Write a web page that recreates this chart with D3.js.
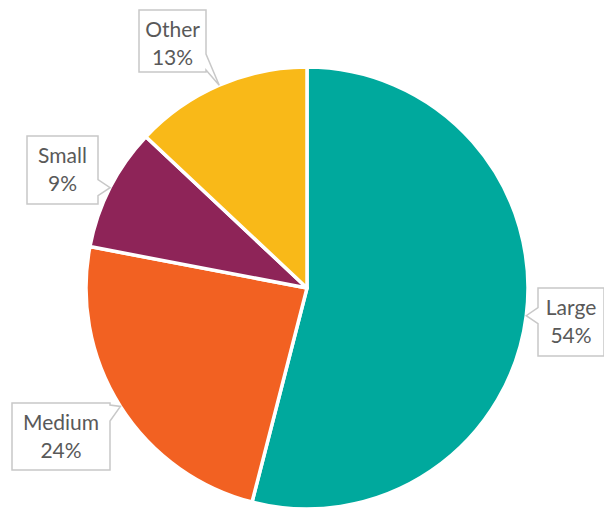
<!DOCTYPE html>
<html>
<head>
<meta charset="utf-8">
<script src="https://cdn.jsdelivr.net/npm/d3@7"></script>
<style>
  body { margin: 0; background: #fff; }
  svg { display: block; }
</style>
</head>
<body>
<svg id="chart" width="604" height="508"></svg>
<script>
const categories = ["Large", "Medium", "Small", "Other"],
    values = [54, 24, 9, 13],
    colors = ["#00A99D", "#F26122", "#8E2458", "#F9B918"];

// callout boxes, one per category (layout only)
const boxes = [
    {x: 538, y: 288, w: 66, h: 68},
    {x: 12, y: 403, w: 98, h: 67},
    {x: 27, y: 136, w: 71, h: 68},
    {x: 139, y: 10, w: 67, h: 62}
];

const cx = 307, cy = 288, radius = 221;

function drawPie() {
    var svg = d3.select("#chart");

    var data = categories.map(function(c, i) {
        return {name: c, value: values[i], color: colors[i], box: boxes[i]};
    });

    var pie = d3.pie().sort(null).value(function(d) { return d.value; }),
        arc = d3.arc().innerRadius(0).outerRadius(radius);

    var g = svg.append("g")
        .attr("transform", "translate(" + cx + "," + cy + ")");

    var arcs = pie(data);

    g.selectAll(".slice")
        .data(arcs)
        .enter().append("path")
        .attr("class", "slice")
        .attr("d", arc)
        .attr("fill", function(d) { return d.data.color; })
        .attr("stroke", "#fff")
        .attr("stroke-width", 3.5)
        .attr("stroke-linejoin", "round");

    // callouts
    arcs.forEach(function(d) {
        var b = d.data.box,
            mid = (d.startAngle + d.endAngle) / 2,
            tip = [cx + radius * Math.sin(mid), cy - radius * Math.cos(mid)],
            path = calloutPath(b, tip);

        svg.append("path")
            .attr("d", path)
            .attr("fill", "#fff")
            .attr("stroke", "#C8C8C8")
            .attr("stroke-width", 1.5);

        var t = svg.append("text")
            .attr("text-anchor", "middle")
            .attr("font-family", "Lato, 'Open Sans', sans-serif")
            .attr("font-size", 21)
            .attr("fill", "#595959");
        t.append("tspan")
            .attr("x", b.x + b.w / 2)
            .attr("y", b.y + 27)
            .text(d.data.name);
        t.append("tspan")
            .attr("x", b.x + b.w / 2)
            .attr("y", b.y + 55)
            .text(d.data.value + "%");
    });
}

function calloutPath(b, tip) {
    var x0 = b.x, y0 = b.y, x1 = b.x + b.w, y1 = b.y + b.h,
        hw = 8, m = 2,
        clamp = function(v, lo, hi) { return Math.max(lo, Math.min(hi, v)); },
        p;
    if (tip[0] > x1) {
        var c = clamp(tip[1], y0 + hw + m, y1 - hw - m);
        p = [[x0, y0], [x1, y0], [x1, c - hw], tip, [x1, c + hw], [x1, y1], [x0, y1]];
    } else if (tip[0] < x0) {
        var c = clamp(tip[1], y0 + hw + m, y1 - hw - m);
        p = [[x0, y0], [x1, y0], [x1, y1], [x0, y1], [x0, c + hw], tip, [x0, c - hw]];
    } else if (tip[1] > y1) {
        var c = clamp(tip[0], x0 + hw + m, x1 - hw - m);
        p = [[x0, y0], [x1, y0], [x1, y1], [c + hw, y1], tip, [c - hw, y1], [x0, y1]];
    } else {
        var c = clamp(tip[0], x0 + hw + m, x1 - hw - m);
        p = [[x0, y0], [c - hw, y0], tip, [c + hw, y0], [x1, y0], [x1, y1], [x0, y1]];
    }
    return "M" + p.map(function(q) { return q[0] + "," + q[1]; }).join("L") + "Z";
}

drawPie();
</script>
</body>
</html>
